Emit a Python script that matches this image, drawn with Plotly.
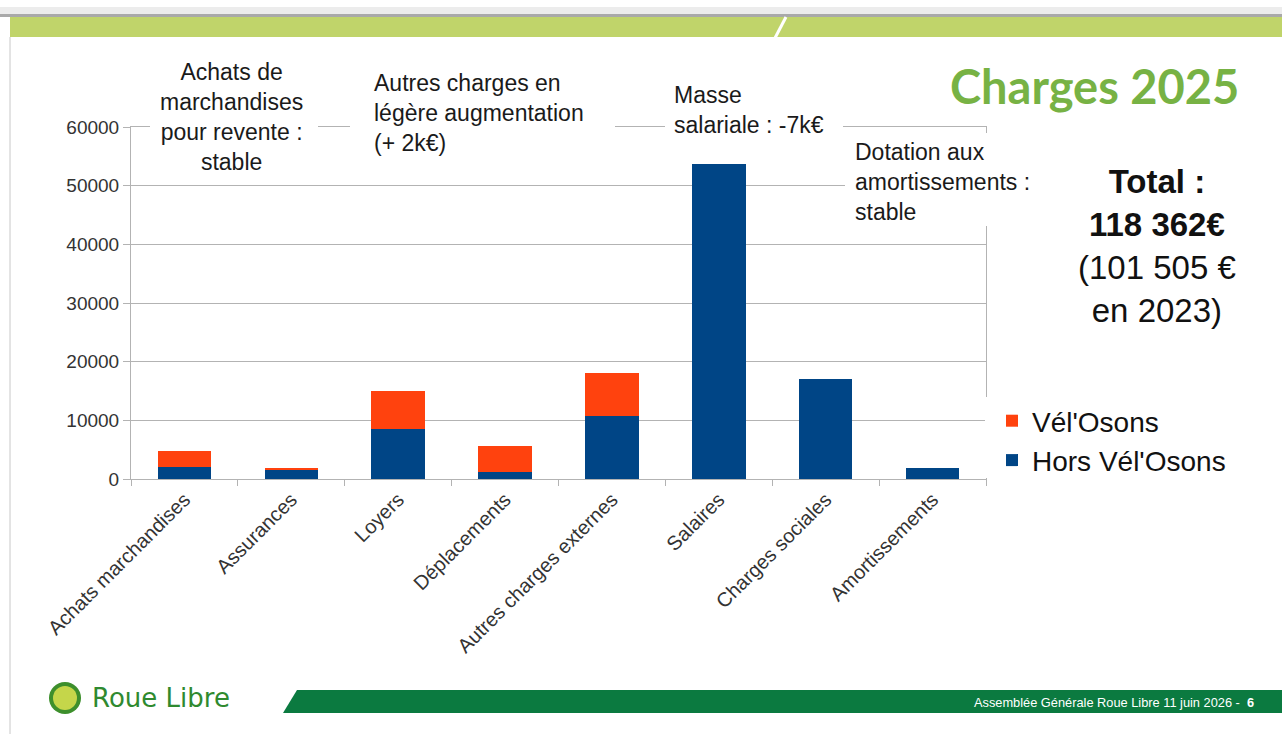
import plotly.graph_objects as go

categories = ["Achats marchandises", "Assurances", "Loyers", "Déplacements",
              "Autres charges externes", "Salaires", "Charges sociales", "Amortissements"]
hors_velosons = [2000, 1500, 8500, 1200, 10700, 53700, 17100, 1900]
velosons = [2800, 400, 6500, 4500, 7400, 0, 0, 0]
y_ticks = [0, 10000, 20000, 30000, 40000, 50000, 60000]

W, H = 1282, 734
L, R, T, B = 131, 986, 127, 479


def X(px):
    return (px - L) / (R - L)


def Y(py):
    return (B - py) / (B - T)


FONT = "Liberation Sans, Arial, sans-serif"
GRID = "#b3b3b3"

fig = go.Figure()
fig.add_trace(go.Bar(x=categories, y=hors_velosons, name="Hors Vél'Osons",
                     marker=dict(color="#004586", line=dict(width=0))))
fig.add_trace(go.Bar(x=categories, y=velosons, name="Vél'Osons",
                     marker=dict(color="#ff420e", line=dict(width=0))))

shapes = []


def rect(x0, y0, x1, y1, color, layer="above"):
    shapes.append(dict(type="rect", xref="paper", yref="paper",
                       x0=X(x0), x1=X(x1), y0=Y(y1), y1=Y(y0),
                       fillcolor=color, line=dict(width=0), layer=layer))


# masks behind the text blocks (white boxes over the grid / frame)
rect(150, 58, 318, 172, "white")
rect(350, 68, 615, 156, "white")
rect(665, 78, 843, 138, "white")
rect(845, 133, 1045, 226, "white")
rect(985, 397, 1250, 478, "white")

# header band
rect(0, 7, 1282, 14, "#ececec")
rect(0, 14, 1282, 17, "#a9a9a9")
rect(10, 17, 1282, 37, "#c0d46a")
shapes.append(dict(type="line", xref="paper", yref="paper",
                   x0=X(786), y0=Y(17), x1=X(775), y1=Y(38),
                   line=dict(color="white", width=3), layer="above"))
# left slide edge
shapes.append(dict(type="line", xref="paper", yref="paper",
                   x0=X(10), y0=Y(37), x1=X(10), y1=Y(734),
                   line=dict(color="#c8c8c8", width=1), layer="above"))
# footer band
shapes.append(dict(type="path", xref="paper", yref="paper",
                   path="M {a},{b} L {c},{b} L {c},{d} L {e},{d} Z".format(
                       a=X(297), b=Y(690), c=X(1282), d=Y(713), e=X(283)),
                   fillcolor="#0b7a40", line=dict(width=0), layer="above"))
# logo
shapes.append(dict(type="circle", xref="paper", yref="paper",
                   x0=X(49), x1=X(81), y0=Y(714), y1=Y(682),
                   fillcolor="#3d8f2c", line=dict(width=0), layer="above"))
shapes.append(dict(type="circle", xref="paper", yref="paper",
                   x0=X(53), x1=X(77), y0=Y(710), y1=Y(686),
                   fillcolor="#c5d64a", line=dict(width=0), layer="above"))

ann = []
afont = dict(family=FONT, size=23, color="#1a1a1a")
ann.append(dict(text="Achats de<br>marchandises<br>pour revente :<br>stable",
                x=X(231), y=Y(117), xanchor="center", yanchor="middle", align="center"))
ann.append(dict(text="Autres charges en<br>légère augmentation<br>(+ 2k€)",
                x=X(372), y=Y(113), xanchor="left", yanchor="middle", align="left"))
ann.append(dict(text="Masse<br>salariale : -7k€",
                x=X(672), y=Y(110), xanchor="left", yanchor="middle", align="left"))
ann.append(dict(text="Dotation aux<br>amortissements :<br>stable",
                x=X(853), y=Y(182), xanchor="left", yanchor="middle", align="left"))
for a in ann:
    a.update(xref="paper", yref="paper", showarrow=False, font=afont)

ann.append(dict(text="<b>Total :</b><br><b>118 362€</b><br>(101 505 €<br>en 2023)",
                x=X(1157), y=Y(246), xref="paper", yref="paper", showarrow=False,
                xanchor="center", yanchor="middle", align="center",
                font=dict(family=FONT, size=33, color="#111111")))
ann.append(dict(text="<b>Charges 2025</b>", x=X(1094), y=Y(86), xref="paper", yref="paper",
                showarrow=False, xanchor="center", yanchor="middle",
                font=dict(family="Lato, Open Sans, sans-serif", size=47, color="#77b244")))
ann.append(dict(text="Assemblée Générale Roue Libre 11 juin 2026 -  <b>6</b>",
                x=X(1256), y=Y(702), xref="paper", yref="paper", showarrow=False,
                xanchor="right", yanchor="middle",
                font=dict(family="Liberation Sans Narrow, Liberation Sans, sans-serif",
                          size=12.8, color="white")))
ann.append(dict(text="Roue Libre", x=X(90), y=Y(698), xref="paper", yref="paper",
                showarrow=False, xanchor="left", yanchor="middle",
                font=dict(family="DejaVu Sans, sans-serif", size=26, color="#2f8a2f")))

fig.update_layout(
    width=W, height=H,
    margin=dict(l=L, r=W - R, t=T, b=H - B, pad=0),
    paper_bgcolor="white", plot_bgcolor="white",
    barmode="stack", bargap=0.5,
    font=dict(family=FONT, size=19, color="#333333"),
    showlegend=True,
    legend=dict(x=X(992), xanchor="left", y=Y(396), yanchor="top",
                traceorder="reversed", bgcolor="rgba(0,0,0,0)",
                font=dict(family=FONT, size=28, color="#111111"),
                itemclick=False),
    shapes=shapes, annotations=ann,
)
fig.update_xaxes(
    type="category", tickangle=-45, tickson="boundaries", ticks="outside",
    ticklen=6, tickcolor=GRID, showline=True, linecolor=GRID, linewidth=1,
    mirror=True, showgrid=False, tickfont=dict(family=FONT, size=20, color="#333333"),
)
fig.update_yaxes(
    range=[0, 60000], tickvals=y_ticks, ticktext=[str(v) for v in y_ticks],
    ticks="outside", ticklen=7, tickcolor=GRID, showline=True, linecolor=GRID,
    linewidth=1, mirror=True, showgrid=True, gridcolor=GRID, gridwidth=1,
    zeroline=False, tickfont=dict(family=FONT, size=19, color="#333333"),
)

fig.write_html("out.html", config={"displayModeBar": False},
               post_script="document.body.style.margin='0';"
                           "document.body.style.overflow='hidden';")
